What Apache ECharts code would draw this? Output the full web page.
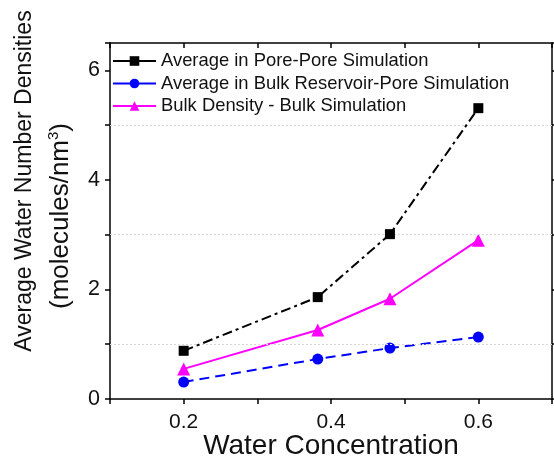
<!DOCTYPE html>
<html>
<head>
<meta charset="utf-8">
<script src="https://cdn.jsdelivr.net/npm/echarts@6/dist/echarts.min.js"></script>
<style>html,body{margin:0;padding:0;background:#fff;}#c{width:554px;height:464px;}</style>
</head>
<body>
<div id="c"></div>
<script>
const seriesNames = ['Average in Pore-Pore Simulation', 'Average in Bulk Reservoir-Pore Simulation', 'Bulk Density - Bulk Simulation'];
const xPore = [0.2, 0.382, 0.48, 0.6];
const yPore = [0.88, 1.86, 3.01, 5.31];
const xBulkRes = [0.2, 0.382, 0.48, 0.6];
const yBulkRes = [0.31, 0.73, 0.93, 1.13];
const xBulk = [0.2, 0.382, 0.48, 0.6];
const yBulk = [0.55, 1.26, 1.83, 2.9];
const gridLevels = [1, 3, 5];
const xTitle = 'Water Concentration';
const yTitle1 = 'Average Water Number Densities';
const yTitle2 = '{n|(molecules/nm}{s|3}{n|)}';

const FONT = 'Liberation Sans, Arial, sans-serif';
const pairs = (xs, ys) => xs.map((x, i) => [x, ys[i]]);

const chart = echarts.init(document.getElementById('c'), null, {renderer: 'canvas'});
const axisCommon = {
  axisLine: {show: true, onZero: false, lineStyle: {color: '#000', width: 1.5}},
  splitLine: {show: false}
};
chart.setOption({
  animation: false,
  backgroundColor: '#fff',
  grid: {left: 110, right: 2, top: 43, bottom: 65, containLabel: false, outerBoundsMode: 'none'},
  legend: {
    orient: 'vertical', left: 112, top: 52, padding: 0,
    itemWidth: 43, itemHeight: 12, itemGap: 4.5,
    lineStyle: {type: 'solid', width: 2},
    textStyle: {fontFamily: FONT, fontSize: 18.4, color: '#111', lineHeight: 18},
    data: seriesNames
  },
  xAxis: [
    Object.assign({}, axisCommon, {
      type: 'value', min: 0.1, max: 0.7, interval: 0.1,
      axisTick: {show: true, inside: false, length: 5, lineStyle: {color: '#000', width: 1.5}},
      axisLabel: {
        fontFamily: FONT, fontSize: 21, color: '#111', margin: 13,
        formatter: v => (Math.round(v * 10) % 2 === 0) ? v.toFixed(1) : ''
      },
      name: xTitle, nameLocation: 'middle', nameGap: 47, nameMoveOverlap: false,
      nameTextStyle: {fontFamily: FONT, fontSize: 28, color: '#111', verticalAlign: 'middle'}
    }),
    Object.assign({}, axisCommon, {
      type: 'value', position: 'top', min: 0.1, max: 0.7, interval: 0.1,
      axisTick: {show: true, inside: true, length: 5, lineStyle: {color: '#000', width: 1.5}},
      axisLabel: {show: false}
    })
  ],
  yAxis: [
    Object.assign({}, axisCommon, {
      type: 'value', min: 0, max: 6.5, interval: 1,
      axisTick: {show: true, inside: false, length: 5, lineStyle: {color: '#000', width: 1.5}},
      axisLabel: {
        fontFamily: FONT, fontSize: 21.5, color: '#111', margin: 10,
        formatter: v => (Math.abs(v - Math.round(v)) < 1e-6 && Math.round(v) % 2 === 0) ? String(Math.round(v)) : ''
      }
    }),
    Object.assign({}, axisCommon, {
      type: 'value', position: 'right', min: 0, max: 6.5, interval: 1,
      axisTick: {show: true, inside: false, length: 5, lineStyle: {color: '#000', width: 1.5}},
      axisLabel: {show: false}
    })
  ],
  graphic: [
    {type: 'text', x: 25, y: 181, rotation: Math.PI / 2,
     style: {text: yTitle1, font: '23px ' + FONT, fill: '#111', align: 'center', verticalAlign: 'middle'}},
    {type: 'text', rotation: Math.PI / 2, x: 61, y: 216,
     style: {text: yTitle2, fill: '#111', align: 'center', verticalAlign: 'middle',
       rich: {
         n: {fontFamily: FONT, fontSize: 26, fill: '#111', lineHeight: 30},
         s: {fontFamily: FONT, fontSize: 15, fill: '#111', lineHeight: 30, verticalAlign: 'top', padding: [0, 0, 12, 0]}
       }}}
  ],
  series: [
    {
      name: seriesNames[0], type: 'line', data: pairs(xPore, yPore),
      symbol: 'rect', symbolSize: 10, color: '#000',
      lineStyle: {color: '#000', width: 2, type: [10, 4, 3, 4]},
      itemStyle: {color: '#000'}, z: 5,
      markLine: {
        silent: true, symbol: 'none', label: {show: false},
        lineStyle: {color: '#d8d8d8', width: 1, type: [2, 2]},
        data: gridLevels.map(v => ({yAxis: v}))
      }
    },
    {
      name: seriesNames[1], type: 'line', data: pairs(xBulkRes, yBulkRes),
      symbol: 'circle', symbolSize: 11, color: '#0000ff',
      lineStyle: {color: '#0000ff', width: 2, type: [10, 6]},
      itemStyle: {color: '#0000ff'}, z: 4
    },
    {
      name: seriesNames[2], type: 'line', data: pairs(xBulk, yBulk),
      symbol: 'triangle', symbolSize: 13, color: '#ff00ff',
      lineStyle: {color: '#ff00ff', width: 2, type: 'solid'},
      itemStyle: {color: '#ff00ff'}, z: 3
    }
  ]
});
</script>
</body>
</html>
